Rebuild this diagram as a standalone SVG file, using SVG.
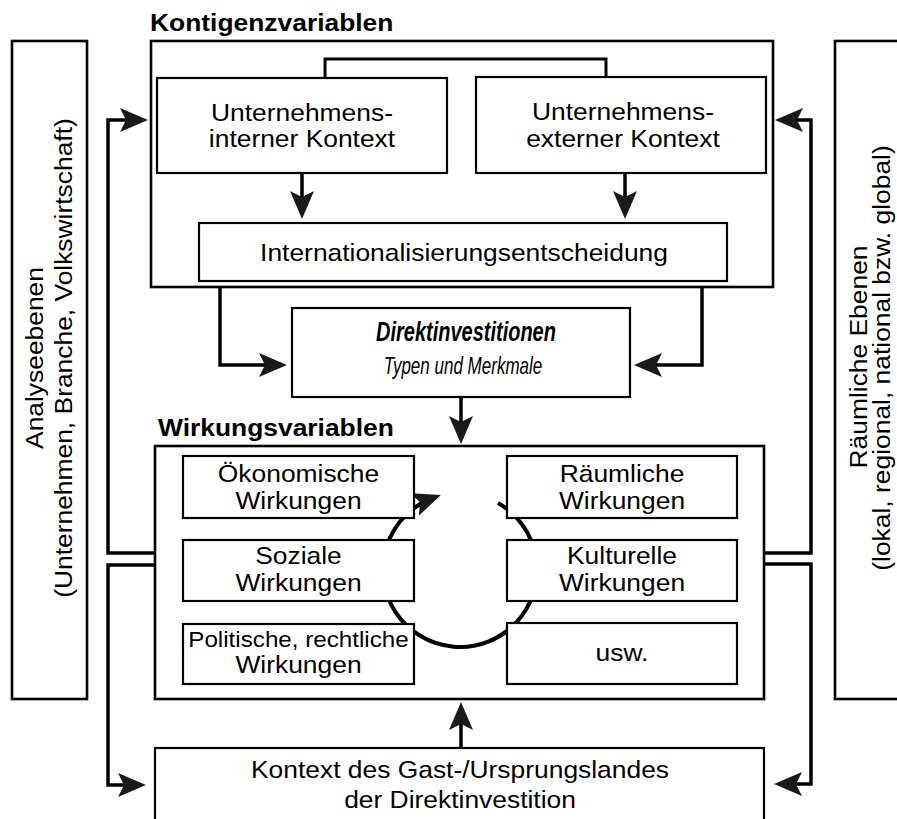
<svg xmlns="http://www.w3.org/2000/svg" width="897" height="819" viewBox="0 0 897 819">
<style>
.box{fill:#fff;stroke:#000;stroke-width:2.2}
.frame{fill:#fff;stroke:#000;stroke-width:2.6}
.conn{fill:none;stroke:#000;stroke-width:3.5;stroke-linejoin:miter;marker-end:url(#arr)}
.line{fill:none;stroke:#000;stroke-width:3}
.t{font-family:"Liberation Sans",Arial,Helvetica,sans-serif;font-size:24px;text-anchor:middle;fill:#000}
.title{font-weight:bold;text-anchor:start}
.sm{font-size:22px}
</style>
<defs>
<marker id="arr" markerUnits="userSpaceOnUse" markerWidth="30" markerHeight="26" refX="20" refY="12" orient="auto" viewBox="0 0 30 26">
<path d="M0,0 L28,12 L0,24 L6,12 Z" fill="#1a1a1a"/>
</marker>
</defs>
<rect width="897" height="819" fill="#fff"/>

<g id="panel-analyse">
<rect class="frame" x="12" y="41" width="75" height="658"/>
<text class="t" transform="translate(43 358) rotate(-90) scale(1.1 1)">Analyseebenen</text>
<text class="t" transform="translate(72 358) rotate(-90) scale(1.1 1)">(Unternehmen, Branche, Volkswirtschaft)</text>
</g>

<g id="panel-raeumlich">
<rect class="frame" x="835" y="41" width="80" height="658"/>
<text class="t" transform="translate(867 357) rotate(-90) scale(1.1 1)">Räumliche Ebenen</text>
<text class="t" transform="translate(890 358) rotate(-90) scale(1.1 1)">(lokal, regional, national bzw. global)</text>
</g>

<g id="kontigenz">
<text class="t title" transform="translate(150 31) scale(1.1 1)">Kontigenzvariablen</text>
<rect class="frame" x="151" y="41" width="622" height="246"/>
<path class="line" d="M325,78 V59 H606 V78"/>
</g>

<g id="intern">
<rect class="box" x="157" y="78" width="290" height="95"/>
<text class="t" transform="translate(302 121) scale(1.1 1)">Unternehmens-</text>
<text class="t" transform="translate(302 147) scale(1.1 1)">interner Kontext</text>
</g>

<g id="extern">
<rect class="box" x="476" y="77" width="290" height="96"/>
<text class="t" transform="translate(623 120) scale(1.1 1)">Unternehmens-</text>
<text class="t" transform="translate(623 147) scale(1.1 1)">externer Kontext</text>
</g>

<g id="entscheidung">
<rect class="box" x="199" y="223" width="528" height="58"/>
<text class="t" transform="translate(464 261) scale(1.1 1)">Internationalisierungsentscheidung</text>
</g>

<g id="direkt">
<rect class="box" x="292" y="308" width="338" height="89"/>
<text class="t" style="font-weight:bold;font-style:italic;font-size:27px" transform="translate(466 341) scale(0.74 1)">Direktinvestitionen</text>
<text class="t" style="font-style:italic;font-size:23px" transform="translate(463 374) scale(0.74 1)">Typen und Merkmale</text>
</g>

<g id="wirkung">
<text class="t title" transform="translate(158 436) scale(1.1 1)">Wirkungsvariablen</text>
<rect class="frame" x="155" y="446" width="609" height="253"/>
<path fill="none" stroke="#000" stroke-width="4" marker-end="url(#arr)" d="M498,503 A77,77 0 1 1 433.4,497.7"/>
</g>

<g id="oekonomisch">
<rect class="box" x="183" y="456" width="231" height="62"/>
<text class="t" transform="translate(298.5 482) scale(1.1 1)">Ökonomische</text>
<text class="t" transform="translate(298.5 509) scale(1.1 1)">Wirkungen</text>
</g>
<g id="raeumlich">
<rect class="box" x="507" y="456" width="230" height="62"/>
<text class="t" transform="translate(622 482) scale(1.1 1)">Räumliche</text>
<text class="t" transform="translate(622 509) scale(1.1 1)">Wirkungen</text>
</g>
<g id="sozial">
<rect class="box" x="183" y="540" width="231" height="61"/>
<text class="t" transform="translate(298.5 564) scale(1.1 1)">Soziale</text>
<text class="t" transform="translate(298.5 591) scale(1.1 1)">Wirkungen</text>
</g>
<g id="kulturell">
<rect class="box" x="507" y="540" width="230" height="61"/>
<text class="t" transform="translate(622 564) scale(1.1 1)">Kulturelle</text>
<text class="t" transform="translate(622 591) scale(1.1 1)">Wirkungen</text>
</g>
<g id="politisch">
<rect class="box" x="183" y="624" width="231" height="60"/>
<text class="t sm" transform="translate(298.5 647) scale(1.1 1)">Politische, rechtliche</text>
<text class="t" transform="translate(298.5 673) scale(1.1 1)">Wirkungen</text>
</g>
<g id="usw">
<rect class="box" x="507" y="623" width="230" height="61"/>
<text class="t" transform="translate(622 661) scale(1.1 1)">usw.</text>
</g>

<g id="kontext">
<rect class="box" x="155" y="748" width="609" height="90"/>
<text class="t" transform="translate(460 778) scale(1.1 1)">Kontext des Gast-/Ursprungslandes</text>
<text class="t" transform="translate(460 808) scale(1.1 1)">der Direktinvestition</text>
</g>

<g id="connectors">
<path class="conn" d="M302,173 V211"/>
<path class="conn" d="M625,173 V211"/>
<path class="conn" d="M220,287 V365 H279"/>
<path class="conn" d="M702,287 V365 H642"/>
<path class="conn" d="M461,397 V436"/>
<path class="conn" d="M461,748 V710"/>
<path class="conn" d="M155,553 H108 V120 H140"/>
<path class="conn" d="M155,565 H108 V785 H138"/>
<path class="conn" d="M764,553 H811 V120 H783"/>
<path class="conn" d="M764,564 H811 V784 H782"/>
</g>
</svg>
